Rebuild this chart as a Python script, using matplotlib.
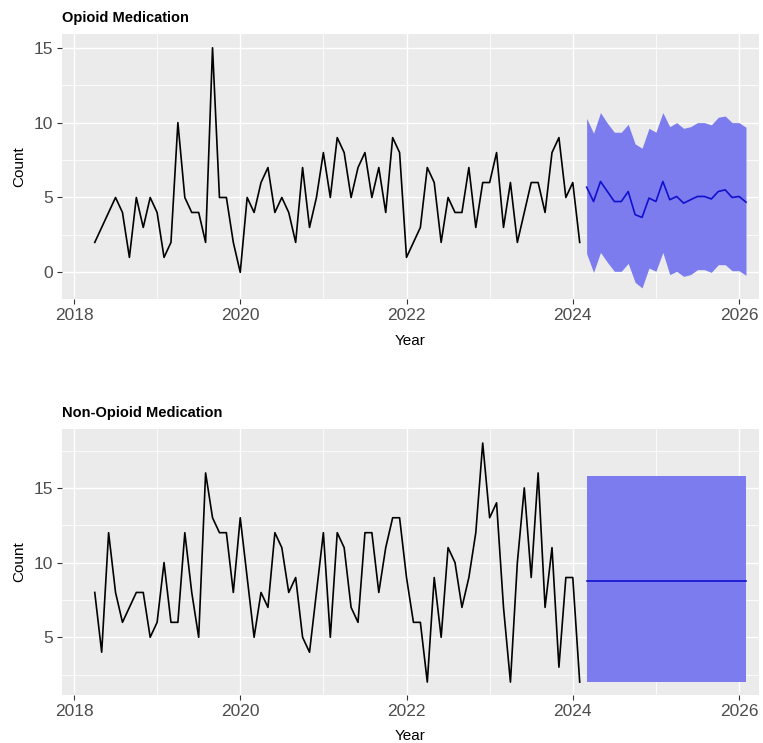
import numpy as np
import matplotlib
matplotlib.use("Agg")
import matplotlib.pyplot as plt
from matplotlib.ticker import MultipleLocator

plt.rcParams['font.family'] = ['Liberation Sans', 'DejaVu Sans']

# monthly counts, Apr 2018 .. Feb 2024
opioid = [2, 3, 4, 5, 4, 1, 5, 3, 5,
          4, 1, 2, 10, 5, 4, 4, 2, 15, 5, 5, 2,
          0, 5, 4, 6, 7, 4, 5, 4, 2, 7, 3, 5,
          8, 5, 9, 8, 5, 7, 8, 5, 7, 4, 9, 8,
          1, 2, 3, 7, 6, 2, 5, 4, 4, 7, 3, 6,
          6, 8, 3, 6, 2, 4, 6, 6, 4, 8, 9, 5,
          6, 2]
non_opioid = [8, 4, 12, 8, 6, 7, 8, 8, 5,
              6, 10, 6, 6, 12, 8, 5, 16, 13, 12, 12, 8,
              13, 9, 5, 8, 7, 12, 11, 8, 9, 5, 4, 8,
              12, 5, 12, 11, 7, 6, 12, 12, 8, 11, 13, 13,
              9, 6, 6, 2, 9, 5, 11, 10, 7, 9, 12, 18,
              13, 14, 7, 2, 10, 15, 9, 16, 7, 11, 3, 9,
              9, 2]

# forecasts, Mar 2024 .. Feb 2026
op_mean = [5.69, 4.73, 6.07, 5.40, 4.73, 4.73, 5.40, 3.85, 3.67, 4.96, 4.73, 6.07,
           4.85, 5.07, 4.62, 4.85, 5.07, 5.07, 4.90, 5.40, 5.51, 5.00, 5.07, 4.69]
op_upper = [10.29, 9.29, 10.67, 9.96, 9.36, 9.36, 9.89, 8.58, 8.29, 9.62, 9.36, 10.67,
            9.73, 10.00, 9.62, 9.73, 10.00, 10.00, 9.85, 10.36, 10.44, 10.00, 10.00, 9.69]
op_lower = [1.25, 0.00, 1.33, 0.67, 0.07, 0.07, 0.60, -0.67, -1.04, 0.29, 0.07, 1.33,
            -0.15, 0.07, -0.27, -0.15, 0.18, 0.18, 0.00, 0.51, 0.51, 0.11, 0.11, -0.20]
non_mean = [8.79, 8.79, 8.79, 8.79, 8.79, 8.79, 8.79, 8.79, 8.79, 8.79, 8.79, 8.79,
            8.79, 8.79, 8.79, 8.79, 8.79, 8.79, 8.79, 8.79, 8.79, 8.79, 8.79, 8.79]
non_upper = [15.81, 15.81, 15.81, 15.81, 15.81, 15.81, 15.81, 15.81, 15.81, 15.81, 15.81, 15.81,
             15.81, 15.81, 15.81, 15.81, 15.81, 15.81, 15.81, 15.81, 15.81, 15.81, 15.81, 15.81]
non_lower = [2.03, 2.03, 2.03, 2.03, 2.03, 2.03, 2.03, 2.03, 2.03, 2.03, 2.03, 2.03,
             2.03, 2.03, 2.03, 2.03, 2.03, 2.03, 2.03, 2.03, 2.03, 2.03, 2.03, 2.03]

start_hist = 2018 + 3 / 12.   # April 2018
start_fc = 2024 + 2 / 12.     # March 2024

W, H = 763, 743
fig = plt.figure(figsize=(W / 100, H / 100), dpi=100)

TICK_COL = '#4D4D4D'
BAND_COL = '#7C7CEE'
MEAN_COL = '#1010D0'


def panel(top, bottom, hist, mean, lo, hi, ylim, ymajor, title):
    left, right = 62, 759
    ax = fig.add_axes([left / W, 1 - bottom / H, (right - left) / W, (bottom - top) / H])
    ax.set_facecolor('#EBEBEB')
    for s in ax.spines.values():
        s.set_visible(False)

    t_hist = start_hist + np.arange(len(hist)) / 12.
    t_fc = start_fc + np.arange(len(mean)) / 12.

    ax.fill_between(t_fc, lo, hi, color=BAND_COL, lw=0, zorder=2)
    ax.plot(t_fc, mean, color=MEAN_COL, lw=1.2, zorder=3)
    ax.plot(t_hist, hist, color='black', lw=1.2, zorder=3)

    ax.set_xlim(2017.856, 2026.24)
    ax.set_ylim(*ylim)
    ax.xaxis.set_major_locator(MultipleLocator(2))
    ax.xaxis.set_minor_locator(MultipleLocator(1))
    ax.yaxis.set_major_locator(MultipleLocator(ymajor))
    ax.yaxis.set_minor_locator(MultipleLocator(ymajor / 2))
    ax.grid(which='major', color='white', lw=1.0, zorder=0)
    ax.grid(which='minor', color='white', lw=0.55, zorder=0)
    ax.set_axisbelow(True)
    ax.tick_params(which='major', length=3.5, width=0.8, color='#333333',
                   labelsize=12.5, labelcolor=TICK_COL, pad=3)
    ax.tick_params(which='minor', length=0)
    ax.xaxis.set_major_formatter(plt.FuncFormatter(lambda v, p: '%d' % v))

    fig.text(left / W, 1 - (top - 16) / H, title, fontsize=10.5, fontweight='bold',
             ha='left', va='center')
    fig.text((left + right) / 2 / W, 1 - (bottom + 42) / H, 'Year', fontsize=11,
             ha='center', va='center')
    fig.text(19 / W, 1 - (top + bottom) / 2 / H, 'Count', fontsize=11, rotation=90,
             ha='center', va='center')
    return ax


panel(34.3, 299.3, opioid, op_mean, op_lower, op_upper, (-1.8, 15.9), 5,
      'Opioid Medication')
ax2 = panel(429.3, 694.5, non_opioid, non_mean, non_lower, non_upper, (1.17, 18.92), 5,
            'Non-Opioid Medication')
ax2.set_yticks([5, 10, 15])

fig.savefig('out.png', dpi=100)
